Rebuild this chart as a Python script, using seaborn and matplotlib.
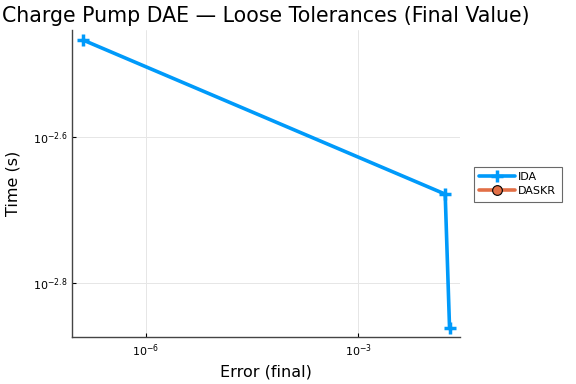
import numpy as np
import pandas as pd
import matplotlib
matplotlib.use("Agg")
import matplotlib.pyplot as plt
import seaborn as sns
from matplotlib.ticker import FixedLocator, FuncFormatter, NullLocator

# Data
ida_error = [1.3e-7, 1.7e-2, 1.96e-2]
ida_time = [10**-2.467, 10**-2.678, 10**-2.862]
daskr_error = [np.nan]
daskr_time = [np.nan]

x_ticks = [1e-6, 1e-3]
y_ticks = [10**-2.8, 10**-2.6]

sns.set_style("white")
plt.rcParams['font.family'] = ['DejaVu Sans']
plt.rcParams['text.color'] = 'black'
plt.rcParams['axes.labelcolor'] = 'black'

fig = plt.figure(figsize=(5.76, 3.84), dpi=100)
ax = fig.add_axes([0.125, 0.122, 0.674, 0.800])

df = pd.DataFrame({"error": ida_error, "time": ida_time})
sns.lineplot(data=df, x="error", y="time", ax=ax, color="#009AFA", lw=2.6,
             marker="+", markersize=8, markeredgecolor="#009AFA",
             markeredgewidth=2.5, sort=False, label="IDA")
ax.plot(daskr_error, daskr_time, color="#E26F46", lw=2.6, marker="o",
        markersize=7, markerfacecolor="#E26F46", markeredgecolor="black",
        markeredgewidth=0.8, label="DASKR")

ax.set_xscale("log")
ax.set_yscale("log")
ax.set_xlim(10**-7.047, 10**-1.557)
ax.set_ylim(10**-2.874, 10**-2.453)

ax.xaxis.set_major_locator(FixedLocator(x_ticks))
ax.yaxis.set_major_locator(FixedLocator(y_ticks))
ax.xaxis.set_minor_locator(NullLocator())
ax.yaxis.set_minor_locator(NullLocator())

def fmt(v, pos):
    e = np.log10(v)
    if abs(e - round(e)) < 1e-6:
        return r"$10^{%d}$" % round(e)
    return r"$10^{%.1f}$" % e

ax.xaxis.set_major_formatter(FuncFormatter(fmt))
ax.yaxis.set_major_formatter(FuncFormatter(fmt))

ax.grid(True, color="#e6e6e6", lw=0.7)
for s in ["top", "right"]:
    ax.spines[s].set_visible(False)
for s in ["left", "bottom"]:
    ax.spines[s].set_color("#444444")
    ax.spines[s].set_linewidth(1.0)
ax.tick_params(axis="both", direction="in", length=3, width=0.8,
               labelsize=8, colors="#000000", left=True, bottom=True)

ax.set_xlabel("Error (final)", fontsize=11.5)
ax.set_ylabel("Time (s)", fontsize=11.5, labelpad=9)
ax.set_title("Charge Pump DAE — Loose Tolerances (Final Value)", fontsize=14.8,
             color="black")

leg = ax.legend(loc="upper left", bbox_to_anchor=(1.035, 0.555), fontsize=8,
                frameon=True, fancybox=False, borderpad=0.5,
                handlelength=3.2, handletextpad=0.3, labelspacing=0.35,
                borderaxespad=0)
leg.get_frame().set_edgecolor("#444444")
leg.get_frame().set_linewidth(0.8)

fig.savefig("out.png", dpi=100)
